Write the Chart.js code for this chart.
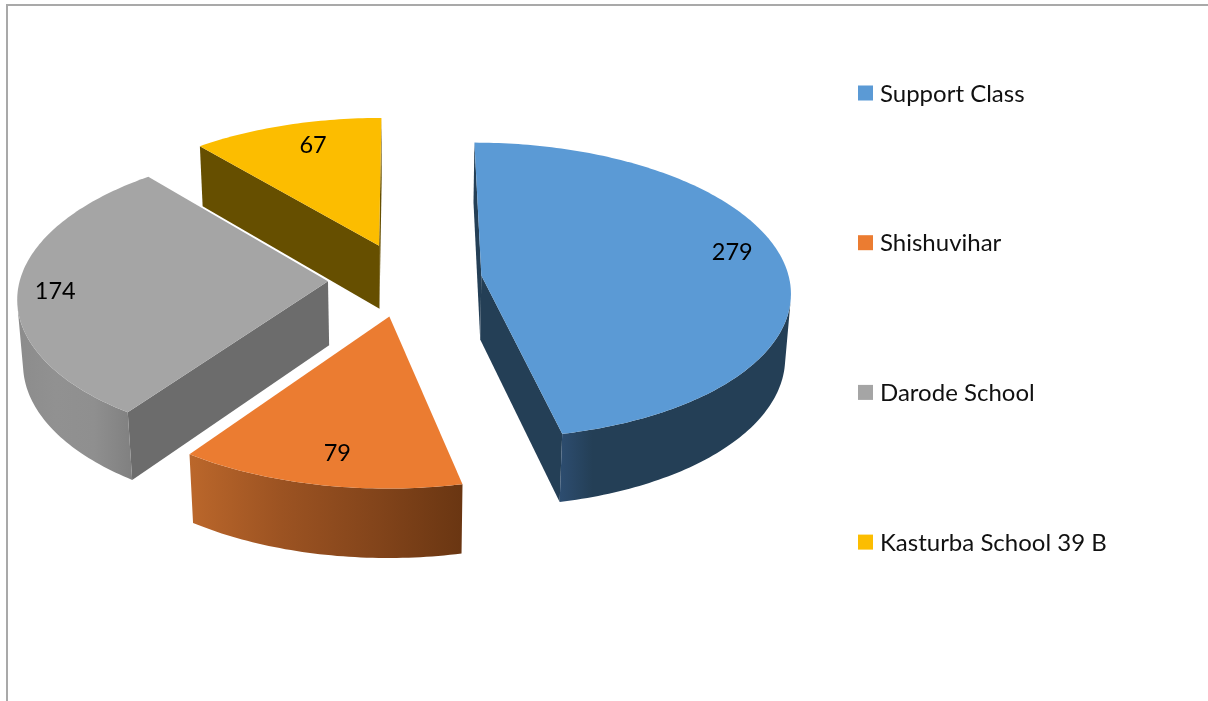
<!DOCTYPE html>
<html>
<head>
<meta charset="utf-8">
<title>Pie 3D</title>
<script src="https://cdn.jsdelivr.net/npm/chart.js@4"></script>
<style>
  html, body { margin: 0; padding: 0; background: #fff; overflow: hidden; }
  #wrap { position: relative; width: 1208px; height: 701px; overflow: hidden; }
  #frame { position: absolute; left: 6px; top: 4px; width: 1300px; height: 800px; border: 2px solid #a9a9a9; }
  canvas { position: absolute; left: 0; top: 0; }
</style>
</head>
<body>
<div id="wrap">
  <div id="frame"></div>
  <canvas id="grafico" width="1208" height="701"></canvas>
</div>
<script>
const categories = ["Support Class", "Shishuvihar", "Darode School", "Kasturba School 39 B"];
const values = [279, 79, 174, 67];

const topColors = ["#5b9ad5", "#eb7c31", "#a5a5a5", "#fcbd00"];
const wallColors = ["#243f56", "#6b3612", "#6c6c6c", "#664f00"];
// gradiente horizontal da lateral curva de cada fatia
const rimColors = [
  ["#2d4d70", "#243f56", "#243f56", "#243f56", "#243f56", "#243f56", "#243f56", "#243f56"],
  ["#bb672b", "#9c5322", "#84451b", "#6a3612"],
  ["#8c8c8c", "#919191", "#8f8f8f", "#808080"],
  ["#806300", "#766000", "#6e5500", "#664f00"],
];

// projecao em perspectiva do disco
const discRadius = 308;
const flatRadius = 147;
const perspective = 0.1;
const depth = 65;
const depthShrink = 0.015;

// rotulos: distancia do vertice e desvio em graus, fatia a fatia
const labelRadii = [0.855, 0.815, 0.88, 0.824];
const labelTurn = [-6, -1, -1, 3];

const fontName = "Lato, 'Open Sans', sans-serif";

const pie3d = {
  id: "pie3d",
  beforeDatasetDraw(chart, args) {
    const ctx = chart.ctx;
    const arcs = args.meta.data;

    const project = (arc, X, Y, z) => {
      const w = 1 - perspective * Y + depthShrink * z;
      return {
        x: arc.x + (discRadius * X) / w,
        y: arc.y + (flatRadius * Y + depth * z) / w,
      };
    };

    const fatias = arcs.map((arc, i) => {
      const mid = (arc.startAngle + arc.endAngle) / 2;
      const off = arc.options.offset / discRadius;
      return { arc, i, mid, ax: off * Math.cos(mid), ay: off * Math.sin(mid) };
    });

    const poly = (pts, fill) => {
      ctx.beginPath();
      pts.forEach((p, n) => (n ? ctx.lineTo(p.x, p.y) : ctx.moveTo(p.x, p.y)));
      ctx.closePath();
      ctx.fillStyle = fill;
      ctx.fill();
    };

    const area = (pts) => {
      let s = 0;
      pts.forEach((p, n) => {
        const q = pts[(n + 1) % pts.length];
        s += p.x * q.y - q.x * p.y;
      });
      return s;
    };

    // de tras para frente
    fatias
      .slice()
      .sort((a, b) => a.ay - b.ay)
      .forEach((f) => {
        const { arc, i, ax, ay } = f;
        const rim = [];
        const passos = Math.ceil((arc.endAngle - arc.startAngle) / (Math.PI / 180));
        for (let n = 0; n <= passos; n++) {
          const a = arc.startAngle + ((arc.endAngle - arc.startAngle) * n) / passos;
          rim.push({ X: ax + Math.cos(a), Y: ay + Math.sin(a) });
        }
        const apex = { X: ax, Y: ay };
        const top = (p) => project(arc, p.X, p.Y, 0);
        const bottom = (p) => project(arc, p.X, p.Y, 1);
        const quad = (p, q) => [top(p), top(q), bottom(q), bottom(p)];

        // paredes retas
        [quad(apex, rim[0]), quad(rim[rim.length - 1], apex)].forEach((q) => {
          if (area(q) < 0) poly(q, wallColors[i]);
        });

        // lateral curva, so a parte visivel
        const vis = [];
        for (let n = 0; n < rim.length - 1; n++) {
          if (area(quad(rim[n], rim[n + 1])) < 0) vis.push(n);
        }
        if (vis.length) {
          const parte = rim.slice(vis[0], vis[vis.length - 1] + 2);
          const contorno = parte.map(top).concat(parte.map(bottom).reverse());
          const xs = contorno.map((p) => p.x);
          const grad = ctx.createLinearGradient(Math.min(...xs), 0, Math.max(...xs), 0);
          rimColors[i].forEach((c, n) => grad.addColorStop(n / (rimColors[i].length - 1), c));
          poly(contorno, grad);
        }

        // face de cima
        poly([top(apex)].concat(rim.map(top)), arc.options.backgroundColor);
      });

    // rotulos de valor
    ctx.fillStyle = "#000";
    ctx.font = "23.5px " + fontName;
    ctx.textAlign = "center";
    ctx.textBaseline = "middle";
    fatias.forEach((f) => {
      const ang = f.mid + (labelTurn[f.i] * Math.PI) / 180;
      const p = project(
        f.arc,
        f.ax + labelRadii[f.i] * Math.cos(ang),
        f.ay + labelRadii[f.i] * Math.sin(ang),
        0
      );
      ctx.fillText(String(values[f.i]), p.x, p.y + 2.5);
    });

    // legenda
    const legendX = 858;
    const legendY = 93;
    const legendStep = 149.7;
    const box = 15;
    ctx.font = "24px " + fontName;
    ctx.textAlign = "left";
    categories.forEach((nome, i) => {
      const y = legendY + legendStep * i;
      ctx.fillStyle = topColors[i];
      ctx.fillRect(legendX, y - box / 2, box, box);
      ctx.fillStyle = "#111";
      ctx.fillText(nome, legendX + box + 7, y + 1);
    });

    return false;
  },
};

new Chart(document.getElementById("grafico"), {
  type: "pie",
  data: {
    labels: categories,
    datasets: [
      {
        data: values,
        backgroundColor: topColors,
        borderWidth: 0,
        offset: 77,
      },
    ],
  },
  options: {
    responsive: false,
    animation: false,
    layout: { padding: { right: 398, bottom: 142 } },
    plugins: {
      legend: { display: false },
      tooltip: { enabled: false },
    },
  },
  plugins: [pie3d],
});
</script>
</body>
</html>
